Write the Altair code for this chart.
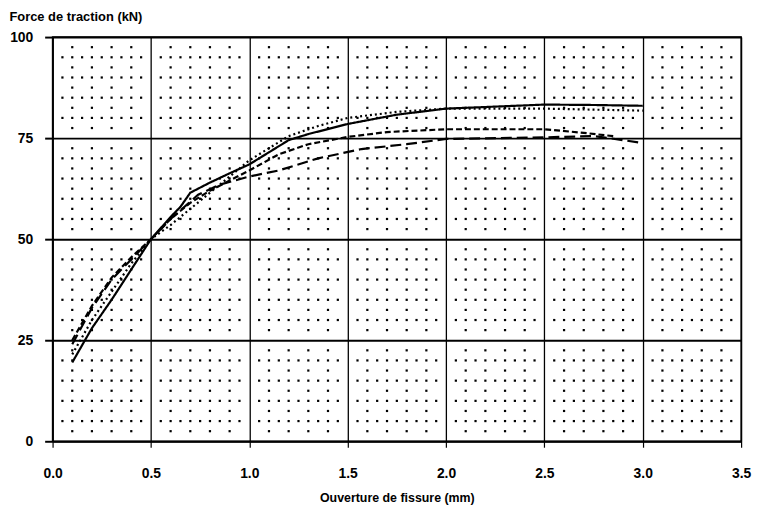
import altair as alt
import pandas as pd

# --- data ---
solid_x = [0.1, 0.2, 0.3, 0.4, 0.5, 0.6, 0.65, 0.7, 0.8, 0.9, 1.0, 1.1, 1.2, 1.3, 1.5, 1.75, 2.0, 2.25, 2.5, 2.75, 3.0]
solid_y = [19.5, 28, 35, 42.5, 50, 55.5, 58, 61.5, 64, 66.3, 68.5, 71.5, 74.5, 76, 78.5, 80.8, 82.3, 82.8, 83.3, 83.2, 83]

dotted_x = [0.1, 0.2, 0.3, 0.4, 0.5, 0.6, 0.7, 0.8, 0.9, 1.0, 1.1, 1.2, 1.35, 1.5, 1.75, 2.0, 2.5, 3.0]
dotted_y = [21.5, 30, 37, 44, 50, 53.5, 57.5, 61.5, 65.5, 69.5, 72.5, 75.5, 78, 80, 81.5, 82.3, 82.3, 81.8]

mdash_x = [0.1, 0.2, 0.3, 0.4, 0.5, 0.6, 0.7, 0.8, 0.9, 1.0, 1.15, 1.3, 1.5, 1.7, 2.0, 2.5, 2.7, 2.85]
mdash_y = [25, 33.5, 40.5, 45.5, 50, 55, 59, 62, 64.5, 67, 71, 73.5, 75.3, 76.5, 77.2, 77.2, 76.3, 75.5]

ldash_x = [0.1, 0.2, 0.3, 0.4, 0.5, 0.6, 0.74, 0.85, 1.0, 1.15, 1.35, 1.57, 1.8, 2.0, 2.5, 2.75, 2.8, 3.0]
ldash_y = [24, 33, 40, 45, 50, 55, 61, 63.5, 65.5, 67, 70, 72.3, 73.5, 74.8, 75.2, 75.5, 75.2, 73.8]

x_ticks = [0.0, 0.5, 1.0, 1.5, 2.0, 2.5, 3.0, 3.5]
y_ticks = [0, 25, 50, 75, 100]

series_names = ["A", "B", "C", "D"]
series_dash = [[1, 0], [2, 3], [6, 3], [11, 5]]

rows = []
for name, xs, ys in zip(series_names, [solid_x, dotted_x, mdash_x, ldash_x], [solid_y, dotted_y, mdash_y, ldash_y]):
    for i, (a, b) in enumerate(zip(xs, ys)):
        rows.append({"s": name, "x": a, "y": b, "o": i})
df = pd.DataFrame(rows)

# dotted background grid (decoration)
dots = []
for i in range(1, 35):
    if i % 5:
        for k in range(1, 40, 2):
            dots.append({"x": i / 10, "y": 2.5 * k})
for i in range(1, 70):
    if i % 10:
        for k in range(0, 20):
            if k % 5:
                dots.append({"x": i * 0.05, "y": 5 * k})
dots_df = pd.DataFrame(dots)

FONT = "Liberation Sans"

xscale = alt.Scale(domain=[0, 3.5], nice=False, zero=False)
yscale = alt.Scale(domain=[0, 100], nice=False)

xaxis = alt.Axis(values=x_ticks, format=".1f", title="Ouverture de fissure (mm)",
                 labelFont=FONT, labelFontWeight="bold", labelFontSize=14, labelColor="black",
                 labelPadding=20, tickSize=6, tickColor="black", tickWidth=1.2,
                 domainColor="black", domainWidth=1.5,
                 grid=True, gridColor="black", gridWidth=1.3,
                 titleFont=FONT, titleFontWeight="bold", titleFontSize=12.5, titleColor="black",
                 titlePadding=11, labelFlush=False)
yaxis = alt.Axis(values=y_ticks, format="d", title="Force de traction (kN)",
                 labelFont=FONT, labelFontWeight="bold", labelFontSize=14, labelColor="black",
                 labelPadding=12, tickSize=8, tickColor="black", tickWidth=2,
                 domainColor="black", domainWidth=1.5,
                 grid=True, gridColor="black", gridWidth=2,
                 titleFont=FONT, titleFontWeight="bold", titleFontSize=13, titleColor="black",
                 titleAngle=0, titleAlign="left", titleBaseline="alphabetic",
                 titleX=-44, titleY=-17)

dot_layer = alt.Chart(dots_df).mark_square(size=5, color="black", opacity=1).encode(
    x=alt.X("x:Q", scale=xscale, axis=xaxis),
    y=alt.Y("y:Q", scale=yscale, axis=yaxis),
)

line_layer = alt.Chart(df).mark_line(color="black", strokeWidth=2.2).encode(
    x=alt.X("x:Q", scale=xscale),
    y=alt.Y("y:Q", scale=yscale),
    detail="s:N",
    order="o:Q",
    strokeDash=alt.StrokeDash("s:N", scale=alt.Scale(domain=series_names, range=series_dash), legend=None),
)

chart = alt.layer(dot_layer, line_layer).properties(
    width=695, height=408,
    autosize="none",
    padding={"left": 45, "top": 27, "right": 12, "bottom": 66},
    background="white",
).configure_view(stroke="black", strokeWidth=1.5)

chart.save("out.html", embed_options={"renderer": "svg", "actions": False})
